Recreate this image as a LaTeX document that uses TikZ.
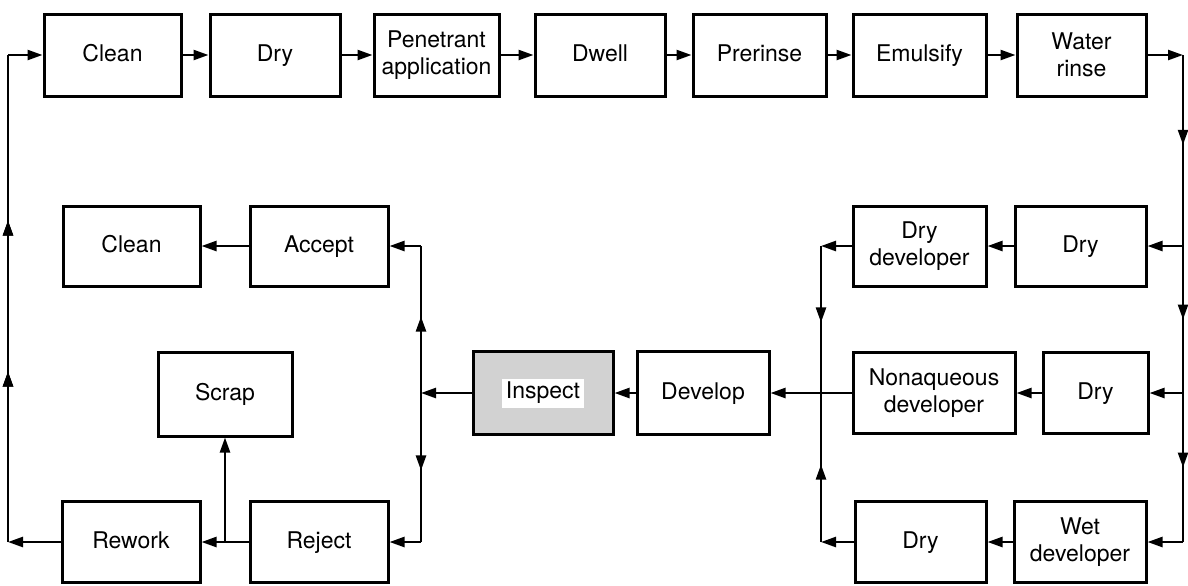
\documentclass[tikz,border=0pt]{standalone}
\usepackage{fontspec}
\setmainfont{TeX Gyre Heros}
\usetikzlibrary{arrows.meta,decorations.markings}
\begin{document}
\begin{tikzpicture}[x=0.5pt,y=-0.5pt,
  box/.style={draw, line width=1.5pt, inner sep=0pt, align=center,
    font=\fontsize{11.5}{13.5}\selectfont},
  one/.style={text height=8.6pt, text depth=2.6pt},
  bx/.style n args={2}{minimum width=#1*0.5pt, minimum height=#2*0.5pt},
  tip/.tip={Triangle[length=7.5pt,width=5pt]},
  arr/.style={-tip, line width=1.2pt},
  ln/.style={line width=1.2pt},
  mid/.style={postaction={decorate},decoration={markings,
    mark=at position #1 with {\arrow{tip}}}}]
\useasboundingbox (0,0) rectangle (1188,585);
% top row
\node[box,one,bx={137}{82}] (clean1) at (112.5,55) {Clean};
\node[box,one,bx={130}{82}] (dry1) at (275,55) {Dry};
\node[box,bx={125}{82}] (pen) at (436.5,55) {Penetrant\\application};
\node[box,one,bx={130}{82}] (dwell) at (600,55) {Dwell};
\node[box,one,bx={133}{82}] (prerinse) at (759.5,55) {Prerinse};
\node[box,one,bx={133}{82}] (emul) at (919.5,55) {Emulsify};
\node[box,bx={129}{82}] (water) at (1081.5,55) {Water\\rinse};
% row 2
\node[box,one,bx={137}{80}] (clean2) at (131.5,246) {Clean};
\node[box,one,bx={138}{80}] (accept) at (319,246) {Accept};
\node[box,bx={133}{80}] (drydev) at (919.5,246) {Dry\\developer};
\node[box,one,bx={131}{80}] (dry2) at (1080.5,246) {Dry};
% row 3
\node[box,one,bx={134}{84}] (scrap) at (225,394) {Scrap};
\node[box,bx={140}{83},fill=gray!35] (inspect) at (543,393)
  {\setlength\fboxsep{1.8pt}\colorbox{white}{Inspect}};
\node[box,one,bx={132}{83}] (develop) at (703,393) {Develop};
\node[box,bx={162}{81}] (nonaq) at (934,393) {Nonaqueous\\developer};
\node[box,one,bx={105}{81}] (dry3) at (1095.5,393) {Dry};
% row 4
\node[box,one,bx={138}{81}] (rework) at (131,542) {Rework};
\node[box,one,bx={138}{81}] (reject) at (319,542) {Reject};
\node[box,one,bx={131}{81}] (dry4) at (920.5,542) {Dry};
\node[box,bx={132}{81}] (wet) at (1080,542) {Wet\\developer};
% junction coordinates
\coordinate (R1) at (1183,55);
\coordinate (R2) at (1183,246);
\coordinate (R3) at (1183,393);
\coordinate (R4) at (1183,542);
\coordinate (L2) at (821,246);
\coordinate (L3) at (821,393);
\coordinate (L4) at (821,542);
\coordinate (M2) at (421,246);
\coordinate (M3) at (421,393);
\coordinate (M4) at (421,542);
\coordinate (J) at (225,542);
\coordinate (B1) at (8,55);
\coordinate (B4) at (8,542);
% top row flow
\draw[arr] (clean1) -- (dry1);
\draw[arr] (dry1) -- (pen);
\draw[arr] (pen) -- (dwell);
\draw[arr] (dwell) -- (prerinse);
\draw[arr] (prerinse) -- (emul);
\draw[arr] (emul) -- (water);
\draw[arr] (water) -- (R1);
% right vertical
\draw[ln,mid=0.47] (R1) -- (R2);
\draw[ln,mid=0.5] (R2) -- (R3);
\draw[ln,mid=0.5] (R3) -- (R4);
\draw[arr] (R2) -- (dry2);
\draw[arr] (R3) -- (dry3);
\draw[arr] (R4) -- (wet);
\draw[arr] (dry2) -- (drydev);
\draw[arr] (dry3) -- (nonaq);
\draw[arr] (wet) -- (dry4);
\draw[arr] (drydev) -- (L2);
\draw[arr] (dry4) -- (L4);
\draw[ln,mid=0.52] (L2) -- (L3);
\draw[ln,mid=0.52] (L4) -- (L3);
\draw[arr] (nonaq) -- (develop);
\draw[arr] (develop) -- (inspect);
\draw[arr] (inspect) -- (M3);
\draw[ln,mid=0.52] (M3) -- (M2);
\draw[ln,mid=0.52] (M3) -- (M4);
\draw[arr] (M2) -- (accept);
\draw[arr] (M4) -- (reject);
\draw[arr] (accept) -- (clean2);
\draw[arr] (reject) -- (rework);
\draw[arr] (J) -- (scrap);
\draw[arr] (rework) -- (B4);
\draw[ln,mid=0.35,mid=0.66] (B4) -- (B1);
\draw[arr] (B1) -- (clean1);
\end{tikzpicture}
\end{document}
